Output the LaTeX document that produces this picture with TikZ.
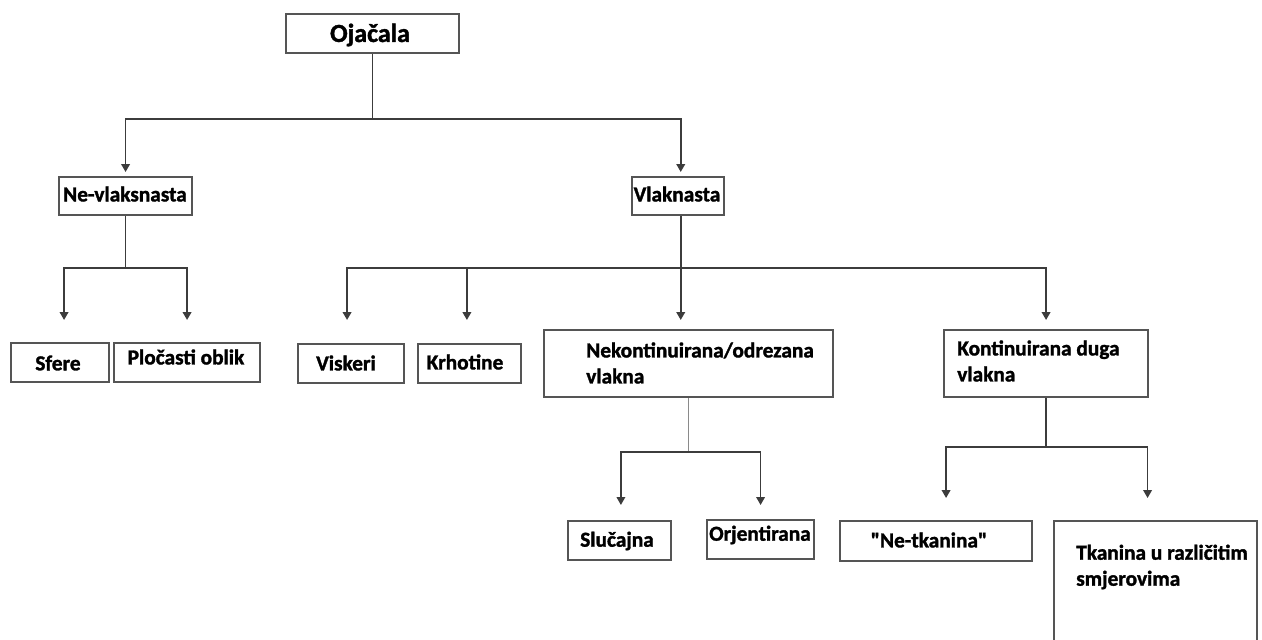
\documentclass[tikz,border=0pt]{standalone}
\usepackage{fontspec}
\setmainfont{Carlito}[BoldFeatures={FakeBold=1.5}]
\usetikzlibrary{arrows.meta}
\definecolor{boxgray}{HTML}{555555}
\definecolor{linegray}{HTML}{3C3C3C}
\definecolor{thingray}{HTML}{8A8A8A}
\begin{document}
\begin{tikzpicture}[x=0.75pt,y=-0.75pt,
  box/.style={draw=boxgray, line width=1.6pt, fill=white, rectangle, inner sep=0pt, anchor=north west},
  lbl/.style={font=\bfseries\fontsize{16}{19.5}\selectfont, inner sep=0pt, text=black},
  lblm/.style={lbl, align=left, font=\bfseries\fontsize{16}{19.5}\selectfont},
  conn/.style={draw=linegray, line width=1.3pt},
  arr/.style={conn, -{Triangle[width=6.5pt,length=6pt]}},
  thinline/.style={draw=thingray, line width=0.8pt}
]
\useasboundingbox (0,0) rectangle (1262,639);

% boxes
\node[box, minimum width={173*0.75pt}, minimum height={39*0.75pt}] (oj) at (285,13) {};
\node[box, minimum width={133*0.75pt}, minimum height={38*0.75pt}] (nv) at (58,176) {};
\node[box, minimum width={92*0.75pt},  minimum height={38*0.75pt}] (vl) at (631,176) {};
\node[box, minimum width={98*0.75pt},  minimum height={39*0.75pt}] (sf) at (10,342) {};
\node[box, minimum width={146*0.75pt}, minimum height={39*0.75pt}] (pl) at (113,342) {};
\node[box, minimum width={106*0.75pt}, minimum height={39*0.75pt}] (vi) at (297,343) {};
\node[box, minimum width={103*0.75pt}, minimum height={39*0.75pt}] (kr) at (417,343) {};
\node[box, minimum width={289*0.75pt}, minimum height={67*0.75pt}] (nk) at (543,329) {};
\node[box, minimum width={204*0.75pt}, minimum height={67*0.75pt}] (ko) at (943,329) {};
\node[box, minimum width={103*0.75pt}, minimum height={39*0.75pt}] (sl) at (567,520) {};
\node[box, minimum width={107*0.75pt}, minimum height={39*0.75pt}] (or) at (706,519) {};
\node[box, minimum width={192*0.75pt}, minimum height={40*0.75pt}] (nt) at (839,520) {};
\node[box, minimum width={203*0.75pt}, minimum height={140*0.75pt}] (tk) at (1053,520) {};

% texts
\node[lbl, font=\bfseries\fontsize{19.5}{23}\selectfont] (ojt) at (370,35) {Ojačala};
\node[lbl] (nvt) at (125,194) {Ne-vlaksnasta};
\node[lbl] (vlt) at (677,194) {Vlaknasta};
\node[lbl] (sft) at (58,363) {Sfere};
\node[lbl] (plt) at (186,357) {Pločasti oblik};
\node[lbl] (vit) at (346,363) {Viskeri};
\node[lbl] (krt) at (465,362) {Krhotine};
\node[lblm, anchor=west] (nkt) at (586,363) {Nekontinuirana/odrezana\\vlakna};
\node[lblm, anchor=west] (kot) at (957,361) {Kontinuirana duga\\vlakna};
\node[lbl] (slt) at (617,541) {Slučajna};
\node[lbl] (ort) at (760,535) {Orjentirana};
\node[lbl] (ntt) at (929,540) {\textquotedbl Ne-tkanina\textquotedbl};
\node[lblm, anchor=west] (tkt) at (1076,567) {Tkanina u različitim\\smjerovima};

% level 1
\draw[arr, shorten >=3pt] (oj.south) -- ++(0,65) -| (nv.north);
\draw[arr, shorten >=3pt] (oj.south) -- ++(0,65) -| ([xshift=2pt]vl.north);

% level 2, Ne-vlaksnasta
\draw[arr, shorten >=16.5pt] (nv.south) -- ++(0,52) -| ([xshift=3pt]sf.north);
\draw[arr, shorten >=16.5pt] (nv.south) -- ++(0,52) -| (pl.north);

% level 2, Vlaknasta
\draw[arr, shorten >=17.25pt] ([xshift=2pt]vl.south) -- ++(0,52) -| ([xshift=-3pt]vi.north);
\draw[arr, shorten >=17.25pt] ([xshift=2pt]vl.south) -- ++(0,52) -| ([xshift=-2pt]kr.north);
\draw[arr, shorten >=6.75pt] ([xshift=2pt]vl.south) -- ([xshift=2pt]vl.south |- nk.north);
\draw[arr, shorten >=6.75pt] ([xshift=2pt]vl.south) -- ++(0,52) -| (ko.north);

% level 3, Nekontinuirana
\draw[thinline] (nk.south) -- ++(0,54);
\draw[arr, line width=1.1pt, shorten >=11.25pt] ([yshift={-54*0.75pt}]nk.south) -| ([xshift=1pt]sl.north);
\draw[arr, line width=1.1pt, shorten >=10.5pt] ([yshift={-54*0.75pt}]nk.south) -| (or.north);

% level 3, Kontinuirana
\draw[arr, shorten >=16.5pt] (ko.south) -- ++(0,49) -| ([xshift=7.5pt]nt.north);
\draw[arr, shorten >=16.5pt] (ko.south) -- ++(0,49) -| ([xshift=-6pt]tk.north);
\end{tikzpicture}
\end{document}
